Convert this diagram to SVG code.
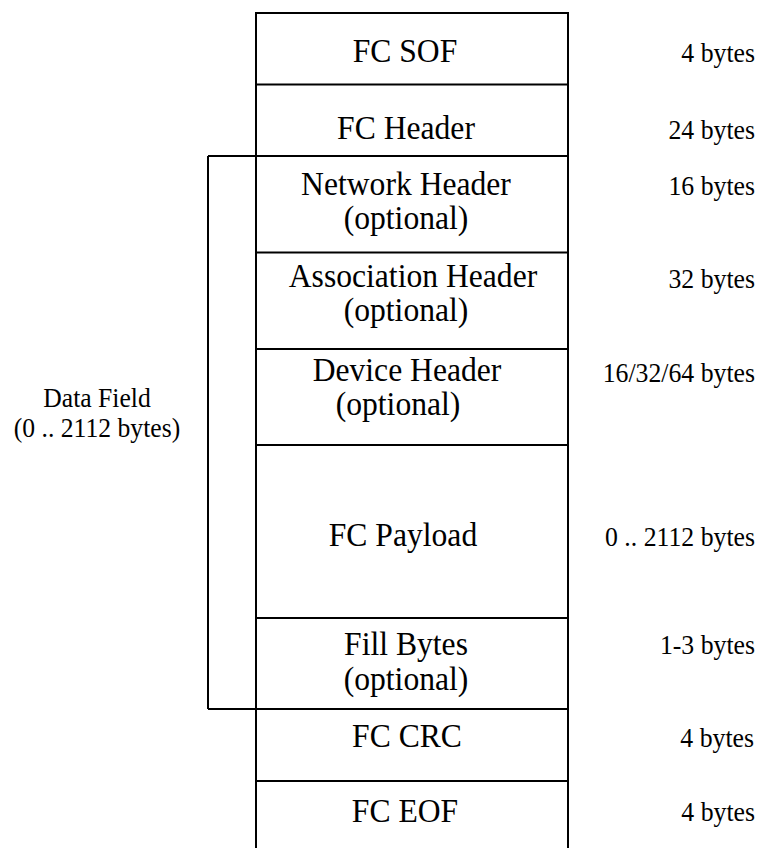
<svg xmlns="http://www.w3.org/2000/svg" width="761" height="848" viewBox="0 0 761 848">
<style>
.ln{stroke:#000;stroke-width:2;fill:none}
.big{font-family:"Liberation Serif","Times New Roman",serif;font-size:34px;fill:#000;text-anchor:middle}
.sz{font-family:"Liberation Serif","Times New Roman",serif;font-size:28px;fill:#000;text-anchor:end}
.df{font-family:"Liberation Serif","Times New Roman",serif;font-size:27px;fill:#000;text-anchor:middle}
</style>
<rect width="761" height="848" fill="#fff"/>
<g id="connectors">
<path class="ln" d="M208,156 H256 M208,156 V709 M208,709 H256"/>
</g>
<g id="frame">
<path class="ln" d="M256,850 V13 H568 V850"/>
</g>
<g id="sof"><line class="ln" x1="256" y1="84.5" x2="568" y2="84.5"/>
<text class="big" transform="translate(405,62) scale(0.93,1)">FC SOF</text>
<text class="sz" transform="translate(755,62) scale(0.92,1)">4 bytes</text></g>
<g id="header"><line class="ln" x1="256" y1="156" x2="568" y2="156"/>
<text class="big" transform="translate(406,139) scale(0.93,1)">FC Header</text>
<text class="sz" transform="translate(755,139) scale(0.92,1)">24 bytes</text></g>
<g id="network"><line class="ln" x1="256" y1="252.5" x2="568" y2="252.5"/>
<text class="big" transform="translate(406,195) scale(0.93,1)">Network Header</text>
<text class="big" transform="translate(406,229) scale(0.93,1)">(optional)</text>
<text class="sz" transform="translate(755,195) scale(0.92,1)">16 bytes</text></g>
<g id="association"><line class="ln" x1="256" y1="349" x2="568" y2="349"/>
<text class="big" transform="translate(413,287) scale(0.93,1)">Association Header</text>
<text class="big" transform="translate(406,321) scale(0.93,1)">(optional)</text>
<text class="sz" transform="translate(755,288) scale(0.92,1)">32 bytes</text></g>
<g id="device"><line class="ln" x1="256" y1="445" x2="568" y2="445"/>
<text class="big" transform="translate(407,381) scale(0.93,1)">Device Header</text>
<text class="big" transform="translate(398,415) scale(0.93,1)">(optional)</text>
<text class="sz" transform="translate(755,382) scale(0.92,1)">16/32/64 bytes</text></g>
<g id="payload"><line class="ln" x1="256" y1="618" x2="568" y2="618"/>
<text class="big" transform="translate(403,546) scale(0.93,1)">FC Payload</text>
<text class="sz" transform="translate(755,546) scale(0.92,1)">0 .. 2112 bytes</text></g>
<g id="fill"><line class="ln" x1="256" y1="709" x2="568" y2="709"/>
<text class="big" transform="translate(406,655) scale(0.93,1)">Fill Bytes</text>
<text class="big" transform="translate(406,690) scale(0.93,1)">(optional)</text>
<text class="sz" transform="translate(755,654) scale(0.92,1)">1-3 bytes</text></g>
<g id="crc"><line class="ln" x1="256" y1="781" x2="568" y2="781"/>
<text class="big" transform="translate(407,747) scale(0.93,1)">FC CRC</text>
<text class="sz" transform="translate(754,747) scale(0.92,1)">4 bytes</text></g>
<g id="eof"><text class="big" transform="translate(405,822) scale(0.93,1)">FC EOF</text>
<text class="sz" transform="translate(755,821) scale(0.92,1)">4 bytes</text></g>
<g id="datafield"><text class="df" transform="translate(97,407) scale(0.95,1)">Data Field</text>
<text class="df" transform="translate(97,437) scale(0.95,1)">(0 .. 2112 bytes)</text></g>
</svg>
